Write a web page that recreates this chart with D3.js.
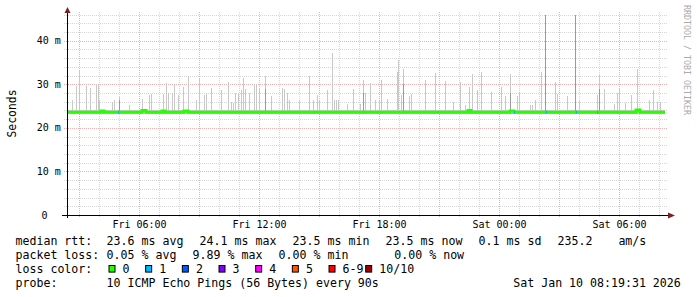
<!DOCTYPE html>
<html>
<head>
<meta charset="utf-8">
<script src="https://cdn.jsdelivr.net/npm/d3@7/dist/d3.min.js"></script>
<style>
  body { margin: 0; background: #fff; }
  text { font-family: "DejaVu Sans Mono", monospace; fill: #000; }
</style>
</head>
<body>
<div id="chart"></div>
<script>
// graph window (30 h), samples every 3 min per pixel
var startTime = new Date(2026, 0, 9, 2, 23);
var endTime = new Date(2026, 0, 10, 8, 23);
var lastHour = 29.9; // hours after start with data

// smoke: highest ping rtt (ms) at hours after start
var spikeHour = [0.27, 0.47, 0.58, 0.97, 1.17, 1.43, 1.53, 1.60, 2.23, 2.37, 2.62, 3.10, 3.73, 4.10, 4.20,
  4.80, 4.97, 5.07, 5.23, 5.37, 5.53, 5.80, 6.07, 6.43, 6.60, 6.83, 6.93, 7.20, 7.70, 8.07, 8.20,
  8.30, 8.40, 8.53, 8.70, 8.80, 8.90, 9.10, 9.35, 9.45, 9.60, 9.90, 10.20, 10.75, 10.85, 11.00,
  11.10, 11.60, 12.10, 12.30, 12.50, 12.60, 13.00, 13.25, 13.35, 13.45, 13.55, 14.00, 14.30, 14.65, 14.80,
  14.90, 15.15, 15.40, 15.60, 15.70, 16.00, 16.50, 16.55, 16.70, 16.80, 17.10, 17.20, 17.90, 18.40,
  18.90, 19.30, 19.65, 19.90, 20.10, 20.25, 20.50, 20.70, 21.20, 21.70, 21.90, 22.15, 22.50, 22.60, 23.15,
  23.25, 23.40, 23.70, 23.90, 24.40, 24.50, 25.00, 25.40, 25.60, 26.50, 26.60, 26.85, 27.35, 27.50,
  27.60, 27.90, 28.20, 28.50, 29.10, 29.30, 29.50, 29.65];
var spikeMax = [26.4, 29.5, 33.2, 29.7, 29.2, 30.1, 30.1, 26.3, 26.0, 26.4, 27.0, 25.3, 26.7, 27.5, 27.7,
  27.7, 30.4, 28.0, 28.0, 29.8, 27.5, 29.4, 31.7, 26.4, 31.3, 27.5, 28.0, 29.2, 28.7, 30.6, 26.0,
  25.6, 28.0, 28.0, 28.8, 31.5, 29.0, 28.0, 30.1, 30.1, 29.2, 32.0, 27.3, 29.2, 29.0, 28.0,
  26.4, 26.3, 32.0, 26.4, 27.5, 26.2, 28.8, 37.3, 26.3, 26.3, 26.3, 25.5, 29.0, 25.5, 31.0,
  28.0, 30.3, 26.4, 26.4, 31.0, 26.6, 32.9, 35.6, 27.5, 33.5, 27.3, 27.8, 31.0, 32.7,
  30.7, 26.0, 30.6, 25.3, 29.4, 32.4, 28.7, 32.9, 28.3, 29.4, 27.3, 32.4, 27.3, 28.3, 25.2,
  25.2, 26.4, 32.9, 46.0, 30.6, 27.8, 27.3, 46.0, 26.2, 27.5, 32.1, 29.0, 25.4, 28.0,
  29.2, 25.8, 27.5, 33.5, 26.3, 28.8, 25.9, 25.9];

// smoke: where several pings were slow (darker shade)
var darkHour = [2.62, 9.90, 14.80, 16.80, 22.15, 23.90, 25.40, 26.60];
var darkMax = [26.5, 29.0, 28.0, 30.0, 28.0, 46.0, 46.0, 29.0];

// smoke band around the median
var bandLow = 23.2;
var bandHigh = 24.2;

// median rtt (ms) and lost pings, changing at hours after start
var medianHour = [0, 1.70, 1.85, 2.55, 2.60, 3.75, 3.95, 4.75, 4.90, 5.85, 6.05, 20.05, 20.20,
  22.15, 22.35, 22.40, 23.95, 24.00, 25.45, 25.50, 26.50, 26.55, 28.45, 28.65];
var medianRtt = [23.6, 23.9, 23.6, 23.6, 23.6, 24.0, 23.6, 23.9, 23.6, 23.9, 23.6, 24.0, 23.6,
  23.9, 23.6, 23.6, 23.6, 23.6, 23.6, 23.6, 23.6, 23.6, 24.1, 23.6];
var medianLoss = [0, 0, 0, 1, 0, 0, 0, 0, 0, 0, 0, 0, 0,
  0, 1, 0, 1, 0, 1, 0, 1, 0, 0, 0];

var yTicks = [0, 10, 20, 30, 40];
var yMinor = [2, 4, 6, 8, 12, 14, 16, 18, 22, 24, 26, 28, 32, 34, 36, 38, 42, 44, 46];

var lossLevels = ["0", "1", "2", "3", "4", "5", "6-9", "10/10"];
var lossColors = ["#26ff00", "#00b8ff", "#0059ff", "#7e00ff", "#ff00ff", "#ff5500", "#ff0000", "#a10000"];

var rttStats = ["23.6 ms avg", "24.1 ms max", "23.5 ms min", "23.5 ms now", "0.1 ms sd"];
var lossStats = ["0.05 % avg", "9.89 % max", "0.00 % min", "0.00 % now"];
var amPerSec = "235.2";
var probeText = "10 ICMP Echo Pings (56 Bytes) every 90s";
var stampText = "Sat Jan 10 08:19:31 2026";

var w = 697, h = 297;
var plotL = 67, plotR = 667, plotB = 215, plotT = 12;

var svg = d3.select("#chart").append("svg")
  .attr("width", w)
  .attr("height", h);

var x = d3.scaleTime().domain([startTime, endTime]).range([plotL, plotR]);
var y = d3.scaleLinear().domain([0, 46.6]).range([plotB, plotT]);

function at(hr) { return new Date(startTime.getTime() + hr * 3600e3); }
var step = 3 * 60e3;

//grid first
var grid = svg.append("g");
grid.selectAll(".vmin")
  .data(x.ticks(d3.timeHour.every(1)))
  .enter().append("line")
  .attr("x1", function(d) { return Math.round(x(d)) + 0.5; })
  .attr("x2", function(d) { return Math.round(x(d)) + 0.5; })
  .attr("y1", plotT).attr("y2", plotB + 3)
  .attr("stroke", function(d) { return d.getHours() % 3 == 0 ? "#eeb0b0" : "#d6d6d6"; })
  .attr("stroke-dasharray", "1,1");

grid.selectAll(".hmin")
  .data(yMinor.concat(yTicks))
  .enter().append("line")
  .attr("x1", plotL - 3).attr("x2", plotR + 1)
  .attr("y1", function(d) { return Math.round(y(d)) + 0.5; })
  .attr("y2", function(d) { return Math.round(y(d)) + 0.5; })
  .attr("stroke", function(d) { return yTicks.indexOf(d) >= 0 ? "#eeb0b0" : "#d6d6d6"; })
  .attr("stroke-dasharray", "1,1");

// smoke
var smoke = svg.append("g").attr("shape-rendering", "crispEdges");
smoke.append("rect")
  .attr("x", x(startTime))
  .attr("width", x(at(lastHour)) - x(startTime))
  .attr("y", y(bandHigh))
  .attr("height", y(bandLow) - y(bandHigh))
  .attr("fill", "#cccccc");

smoke.selectAll(".spike")
  .data(d3.zip(spikeHour, spikeMax))
  .enter().append("rect")
  .attr("x", function(d) { return Math.round(x(at(d[0]))); })
  .attr("width", function(d) { return Math.max(1, Math.round(x(new Date(at(d[0]).getTime() + step)) - x(at(d[0])))); })
  .attr("y", function(d) { return Math.max(plotT, y(d[1])); })
  .attr("height", function(d) { return y(bandLow) - Math.max(plotT, y(d[1])); })
  .attr("fill", "#c8c8c8");

smoke.selectAll(".dark")
  .data(d3.zip(darkHour, darkMax))
  .enter().append("rect")
  .attr("x", function(d) { return Math.round(x(at(d[0]))); })
  .attr("width", 1)
  .attr("y", function(d) { return Math.max(plotT, y(d[1])); })
  .attr("height", function(d) { return y(bandLow) - Math.max(plotT, y(d[1])); })
  .attr("fill", "#9a9a9a");

// median line, coloured by loss
var pts = d3.range(medianHour.length).map(function(i) {
  return { t: at(medianHour[i]), v: medianRtt[i], loss: medianLoss[i] };
});
pts.push({ t: at(lastHour), v: medianRtt[medianRtt.length - 1], loss: 0 });

var line = d3.line()
  .x(function(d) { return x(d.t); })
  .y(function(d) { return y(d.v); })
  .curve(d3.curveStepAfter);

svg.append("path")
  .datum(pts)
  .attr("d", line)
  .attr("fill", "none")
  .attr("stroke", lossColors[0])
  .attr("stroke-width", 3);

svg.selectAll(".lossmark")
  .data(pts.slice(0, -1).map(function(d, i) { return [d, pts[i + 1]]; }).filter(function(s) { return s[0].loss > 0; }))
  .enter().append("line")
  .attr("x1", function(s) { return x(s[0].t); })
  .attr("x2", function(s) { return Math.max(x(s[1].t), x(s[0].t) + 1); })
  .attr("y1", function(s) { return y(s[0].v); })
  .attr("y2", function(s) { return y(s[0].v); })
  .attr("stroke", function(s) { return lossColors[s[0].loss]; })
  .attr("stroke-width", 3);

// axes
var axisG = svg.append("g").attr("shape-rendering", "crispEdges");
axisG.append("line")
  .attr("x1", plotL - 5).attr("x2", plotR + 1)
  .attr("y1", plotB + 0.5).attr("y2", plotB + 0.5)
  .attr("stroke", "#000");
axisG.append("line")
  .attr("x1", plotL + 0.5).attr("x2", plotL + 0.5)
  .attr("y1", plotB + 3).attr("y2", plotT)
  .attr("stroke", "#000");

svg.append("path")
  .attr("d", "M" + (plotR + 1) + "," + (plotB - 2.5) + "L" + (plotR + 8) + "," + (plotB + 0.5) + "L" + (plotR + 1) + "," + (plotB + 3.5) + "Z")
  .attr("fill", "#7f1f1f");
svg.append("path")
  .attr("d", "M" + (plotL - 2.5) + "," + (plotT + 1) + "L" + (plotL + 0.5) + "," + (plotT - 5) + "L" + (plotL + 3.5) + "," + (plotT + 1) + "Z")
  .attr("fill", "#7f1f1f");

//y labels
svg.selectAll(".ylab")
  .data(yTicks)
  .enter().append("text")
  .text(function(d) { return d == 0 ? "0" : d + " m"; })
  .attr("x", function(d) { return d == 0 ? 47.5 : 60.8; })
  .attr("y", function(d) { return y(d) + 3.6; })
  .attr("text-anchor", "end")
  .attr("font-size", "10px");

//x labels
var fmt = d3.timeFormat("%a %H:%M");
svg.selectAll(".xlab")
  .data(x.ticks(d3.timeHour.every(6)))
  .enter().append("text")
  .text(function(d) { return fmt(d); })
  .attr("x", function(d) { return Math.round(x(d)) + 0.5; })
  .attr("y", 227.5)
  .attr("text-anchor", "middle")
  .attr("font-size", "10px");

svg.append("text")
  .text("Seconds")
  .attr("transform", "translate(15.5,113.5) rotate(-90)")
  .attr("text-anchor", "middle")
  .attr("font-size", "11.4px");

svg.append("text")
  .text("RRDTOOL / TOBI OETIKER")
  .attr("transform", "translate(684,5) rotate(90)")
  .attr("font-size", "8.3px")
  .style("fill", "#aaaaaa");

// legend
var fs = "11.6px";
var rows = [245.3, 259.3, 272.8, 286.7];
function txt(s, xx, yy, anchor) {
  return svg.append("text").text(s)
    .attr("x", xx).attr("y", yy)
    .attr("font-size", fs)
    .attr("text-anchor", anchor || "start")
    .style("white-space", "pre");
}

txt("median rtt:", 15.5, rows[0]);
rttStats.forEach(function(s, i) { txt(s, 106.6 + i * 93, rows[0]); });
txt(amPerSec, 557.6, rows[0]);
txt("am/s", 618.4, rows[0]);

txt("packet loss:", 15.5, rows[1]);
var lossX = [106.6, 192.6, 278.6, 394.3];
lossStats.forEach(function(s, i) { txt(s, lossX[i], rows[1]); });

txt("loss color:", 15.5, rows[2]);
var boxes = svg.selectAll(".lbox")
  .data(lossLevels)
  .enter().append("g")
  .attr("transform", function(d, i) { return "translate(" + (108.5 + i * 36.67) + ",0)"; });
boxes.append("rect")
  .attr("x", 0.5).attr("y", rows[2] - 7.3)
  .attr("width", 6).attr("height", 6.6)
  .attr("fill", function(d, i) { return lossColors[i]; })
  .attr("stroke", "#000");
boxes.append("text")
  .text(function(d) { return d; })
  .attr("x", 14.1).attr("y", rows[2])
  .attr("font-size", fs);

txt("probe:", 15.5, rows[3]);
txt(probeText, 106.6, rows[3]);
txt(stampText, 680.8, rows[3], "end");
</script>
</body>
</html>
